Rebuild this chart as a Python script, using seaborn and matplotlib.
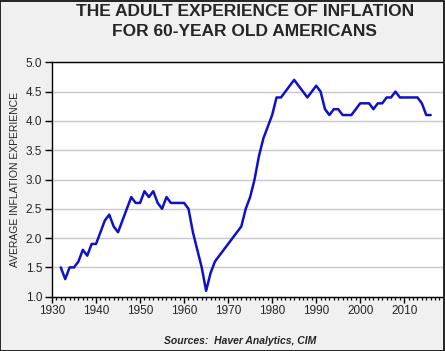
import numpy as np
import pandas as pd
from matplotlib import pyplot as plt
from matplotlib.patches import Rectangle
from matplotlib.ticker import MultipleLocator
import seaborn as sns

years = list(range(1932, 2017))
inflation = [1.5, 1.3, 1.5, 1.5, 1.6, 1.8, 1.7, 1.9, 1.9, 2.1,
             2.3, 2.4, 2.2, 2.1, 2.3, 2.5, 2.7, 2.6, 2.6, 2.8,
             2.7, 2.8, 2.6, 2.5, 2.7, 2.6, 2.6, 2.6, 2.6, 2.5,
             2.1, 1.8, 1.5, 1.1, 1.4, 1.6, 1.7, 1.8, 1.9, 2.0,
             2.1, 2.2, 2.5, 2.7, 3.0, 3.4, 3.7, 3.9, 4.1, 4.4,
             4.4, 4.5, 4.6, 4.7, 4.6, 4.5, 4.4, 4.5, 4.6, 4.5,
             4.2, 4.1, 4.2, 4.2, 4.1, 4.1, 4.1, 4.2, 4.3, 4.3,
             4.3, 4.2, 4.3, 4.3, 4.4, 4.4, 4.5, 4.4, 4.4, 4.4,
             4.4, 4.4, 4.3, 4.1, 4.1]

df = pd.DataFrame({"year": years, "value": inflation})

sns.set_style("white")
plt.rcParams['font.family'] = ['Liberation Sans', 'DejaVu Sans']

fig = plt.figure(figsize=(4.45, 3.51), dpi=100, facecolor="#f0f0f0")
ax = fig.add_axes([52 / 445, 54.3 / 351, 391 / 445, 234.4 / 351])
ax.set_facecolor("white")

sns.lineplot(data=df, x="year", y="value", ax=ax, color="#1010c8", linewidth=1.8)

ax.set_xlim(1930, 2018.8)
ax.set_ylim(1.0, 5.0)
ax.xaxis.set_major_locator(MultipleLocator(10))
ax.xaxis.set_minor_locator(MultipleLocator(1))
ax.yaxis.set_major_locator(MultipleLocator(0.5))
ax.yaxis.set_major_formatter(plt.FormatStrFormatter("%.1f"))
ax.grid(axis="y", color="#c8c8c8", linewidth=1)
ax.set_axisbelow(True)

for side in ["top", "left", "bottom"]:
    ax.spines[side].set_color("black")
    ax.spines[side].set_linewidth(1)
ax.spines["right"].set_visible(False)

ax.tick_params(axis="x", which="major", direction="out", length=4, width=1,
               labelsize=8.5, color="black", pad=2, bottom=True)
ax.tick_params(axis="x", which="minor", direction="out", length=2.5, width=0.9,
               color="black", bottom=True)
ax.tick_params(axis="y", direction="out", length=5, width=1, labelsize=8.5,
               color="black", pad=2, left=True)

ax.set_xlabel("")
ax.set_ylabel("AVERAGE INFLATION EXPERIENCE", fontsize=7.5, labelpad=4)

fig.text(0.55, 0.99, "THE ADULT EXPERIENCE OF INFLATION\nFOR 60-YEAR OLD AMERICANS",
         ha="center", va="top", fontsize=12.5, fontweight="bold", linespacing=1.45)
fig.text(0.54, 0.028, "Sources:  Haver Analytics, CIM", ha="center", va="center",
         fontsize=7.5, fontweight="bold", style="italic")

fig.patches.append(Rectangle((0.001, 0.001), 0.997, 0.997, transform=fig.transFigure,
                             fill=False, edgecolor="black", linewidth=1.2))

fig.savefig("out.png", dpi=100, facecolor=fig.get_facecolor())
